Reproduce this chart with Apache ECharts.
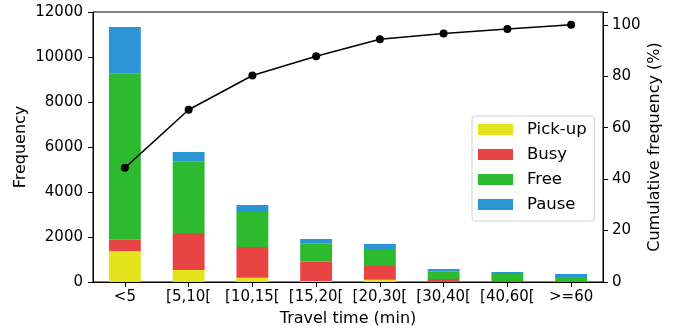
<!DOCTYPE html>
<html>
<head>
<meta charset="utf-8">
<script src="https://cdn.jsdelivr.net/npm/echarts@6/dist/echarts.min.js"></script>
<style>
  html, body { margin: 0; padding: 0; background: #fff; }
  #chart { width: 688px; height: 335px; }
</style>
</head>
<body>
<div id="chart"></div>
<script>
// Travel time classes
const categories = ['<5', '[5,10[', '[10,15[', '[15,20[', '[20,30[', '[30,40[', '[40,60[', '>=60'];

// Trip counts per state, stacked
const pickup = [1380, 530, 190, 45, 100, 10, 5, 3];
const busy   = [500, 1650, 1365, 860, 610, 125, 40, 12];
const free   = [7380, 3170, 1555, 815, 755, 340, 310, 210];
const pause  = [2070, 430, 310, 190, 220, 105, 90, 135];

// Cumulative frequency (%)
const cumulative = [44.4, 67.0, 80.3, 87.8, 94.4, 96.6, 98.4, 100];

const leftTicks = { min: 0, max: 12000, interval: 2000 };
const rightTicks = { min: 0, max: 105, interval: 20 };

const FONT = 'DejaVu Sans';
const TICK_SIZE = 15;
const NAME_SIZE = 16;
const LEGEND_SIZE = 16.5;
const colors = {
  pickup: '#e4e41e',
  busy: '#e84444',
  free: '#2eba2e',
  pause: '#2b94d4'
};

const chart = echarts.init(document.getElementById('chart'), null, { renderer: 'canvas' });

function barSeries(name, data, color) {
  return {
    name: name,
    type: 'bar',
    stack: 'state',
    data: data,
    barWidth: '50%',
    itemStyle: { color: color },
    yAxisIndex: 0,
    animation: false
  };
}

chart.setOption({
  animation: false,
  textStyle: { fontFamily: FONT },
  grid: {
    left: 93, right: 85, top: 12, bottom: 53,
    show: true, borderColor: '#000', borderWidth: 1, backgroundColor: 'transparent'
  },
  legend: {
    orient: 'vertical',
    left: 472, top: 116,
    itemWidth: 35, itemHeight: 11, itemGap: 8,
    padding: [5, 8, 8, 6],
    backgroundColor: 'rgba(255,255,255,0.9)',
    borderColor: '#d0d0d0', borderWidth: 1, borderRadius: 3,
    textStyle: { fontFamily: FONT, fontSize: LEGEND_SIZE, color: '#000', padding: [0, 0, 0, 9] },
    icon: 'rect',
    data: ['Pick-up', 'Busy', 'Free', 'Pause']
  },
  xAxis: {
    type: 'category',
    data: categories,
    name: 'Travel time (min)',
    nameLocation: 'middle',
    nameGap: 29,
    nameMoveOverlap: false,
    nameTextStyle: { fontFamily: FONT, fontSize: NAME_SIZE, color: '#000' },
    axisLine: { show: true, lineStyle: { color: '#000', width: 1 } },
    axisTick: { show: true, alignWithLabel: true, length: 5, lineStyle: { color: '#000' } },
    axisLabel: { fontFamily: FONT, fontSize: TICK_SIZE, color: '#000', margin: 8, interval: 0 },
    splitLine: { show: false }
  },
  yAxis: [
    {
      type: 'value',
      min: leftTicks.min, max: leftTicks.max, interval: leftTicks.interval,
      name: 'Frequency',
      nameLocation: 'middle',
      nameGap: 64,
      nameMoveOverlap: false,
      nameRotate: 90,
      nameTextStyle: { fontFamily: FONT, fontSize: NAME_SIZE, color: '#000' },
      axisLine: { show: true, lineStyle: { color: '#000', width: 1 } },
      axisTick: { show: true, length: 5, lineStyle: { color: '#000' } },
      axisLabel: { fontFamily: FONT, fontSize: TICK_SIZE, color: '#000', margin: 10, formatter: v => String(v) },
      splitLine: { show: false }
    },
    {
      type: 'value',
      position: 'right',
      min: rightTicks.min, max: rightTicks.max, interval: rightTicks.interval,
      name: 'Cumulative frequency (%)',
      nameLocation: 'middle',
      nameGap: 44,
      nameMoveOverlap: false,
      nameRotate: 90,
      nameTextStyle: { fontFamily: FONT, fontSize: NAME_SIZE, color: '#000' },
      axisLine: { show: true, lineStyle: { color: '#000', width: 1 } },
      axisTick: { show: true, length: 5, lineStyle: { color: '#000' } },
      axisLabel: {
        fontFamily: FONT, fontSize: TICK_SIZE, color: '#000', margin: 9,
        formatter: v => (v % 20 === 0 ? String(v) : '')
      },
      splitLine: { show: false }
    }
  ],
  series: [
    barSeries('Pick-up', pickup, colors.pickup),
    barSeries('Busy', busy, colors.busy),
    barSeries('Free', free, colors.free),
    barSeries('Pause', pause, colors.pause),
    {
      name: 'Cumulative',
      type: 'line',
      yAxisIndex: 1,
      data: cumulative,
      symbol: 'circle',
      symbolSize: 8,
      itemStyle: { color: '#000' },
      lineStyle: { color: '#000', width: 1.5 },
      z: 5,
      animation: false
    }
  ]
});
</script>
</body>
</html>
